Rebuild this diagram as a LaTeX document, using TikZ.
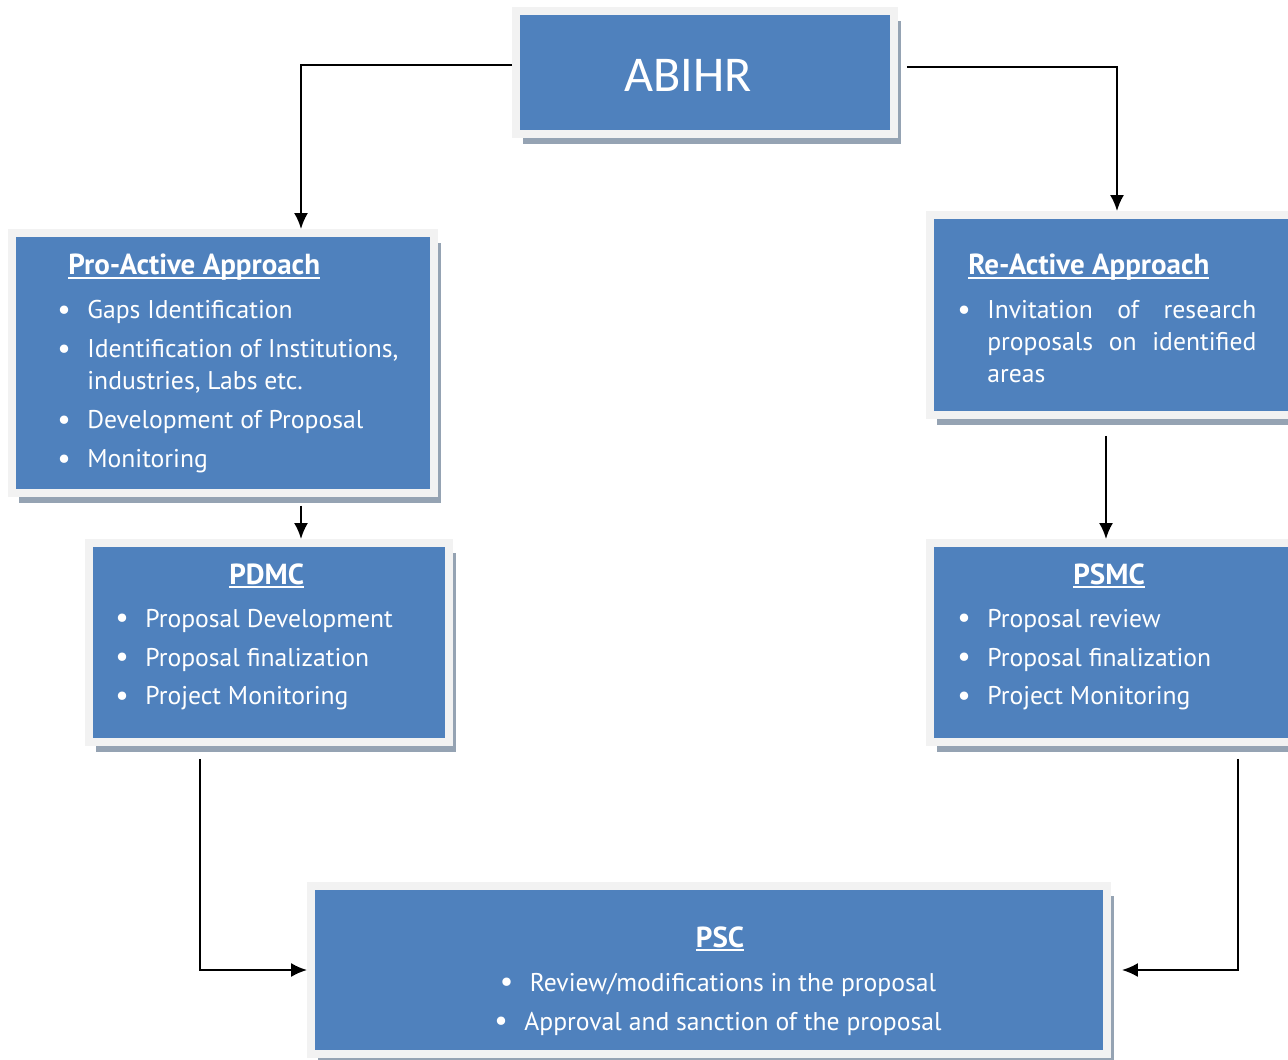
\documentclass[tikz,border=0pt]{standalone}
\usepackage{fontspec}
\setmainfont{PT Sans}
\newfontfamily\titlefont{Carlito}
\usetikzlibrary{calc,shadows,arrows.meta}
\definecolor{boxblue}{HTML}{4F81BD}
\definecolor{framegray}{HTML}{F2F2F2}
\definecolor{shadowgray}{HTML}{95A3B3}
\newlength\pxl
\setlength\pxl{0.02cm}
\newcommand\bul{\makebox[26\pxl][l]{\hspace*{-4\pxl}\raisebox{-0.5\pxl}{\fontsize{17}{17}\selectfont\textbullet}}}
\newcommand\hdline[1]{\setbox0\hbox{#1}\copy0\llap{\rule[-4\pxl]{\wd0}{2\pxl}}}
\newcommand\hd[1]{{\bfseries\fontsize{16.5}{18.2}\selectfont\hdline{#1}}}
\tikzset{
  panel/.style={fill=boxblue, draw=framegray, line width=0.16cm, inner sep=0pt,
    drop shadow={shadow xshift=0.14cm, shadow yshift=-0.2cm, fill=shadowgray, opacity=1}},
  txt/.style={text=white, inner sep=0pt, font=\fontsize{14.6}{18.2}\selectfont},
  arr/.style={-{Latex[length=0.32cm,width=0.28cm]}, line width=0.04cm}
}
\begin{document}
\begin{tikzpicture}[x=0.02cm,y=-0.02cm]
  \useasboundingbox (0,0) rectangle (1288,1059);
  \node [panel, minimum width=7.56cm, minimum height=2.46cm] (abihr) at (705,72.5) {};
  \node [panel, minimum width=8.44cm, minimum height=5.2cm] (pro) at (223,363) {};
  \node [panel, minimum width=7.24cm, minimum height=4cm] (re) at (1111,315) {};
  \node [panel, minimum width=7.2cm, minimum height=3.98cm] (pdmc) at (269,642.5) {};
  \node [panel, minimum width=7.24cm, minimum height=3.98cm] (psmc) at (1111,642.5) {};
  \node [panel, minimum width=15.92cm, minimum height=3.36cm] (psc) at (709,970) {};
  \node [txt, font=\titlefont\fontsize{28.5}{30}\selectfont] (abihrtxt) at (688,75) {ABIHR};
  \node [txt, align=left, anchor=north west] (protxt) at (61,254) {%
    \hspace*{7\pxl}\hd{Pro-Active Approach}\\[12\pxl]
    \bul Gaps Identification\\[7\pxl]
    \bul Identification of Institutions,\\
    \hspace*{26\pxl}industries, Labs etc.\\[7\pxl]
    \bul Development of Proposal\\[7\pxl]
    \bul Monitoring};
  \node [txt, align=left, anchor=north west] (retxt) at (961,254) {%
    \hspace*{7\pxl}\hd{Re-Active Approach}\\[12\pxl]
    \bul\makebox[269\pxl][s]{Invitation of research}\\
    \hspace*{26\pxl}\makebox[269\pxl][s]{proposals on identified}\\
    \hspace*{26\pxl}areas};
  \node [txt, align=left, anchor=north west] (pdmctxt) at (119,563) {%
    \hspace*{110\pxl}\hd{PDMC}\\[11\pxl]
    \bul Proposal Development\\[7\pxl]
    \bul Proposal finalization\\[7\pxl]
    \bul Project Monitoring};
  \node [txt, align=left, anchor=north west] (psmctxt) at (961,563) {%
    \hspace*{112\pxl}\hd{PSMC}\\[11\pxl]
    \bul Proposal review\\[7\pxl]
    \bul Proposal finalization\\[7\pxl]
    \bul Project Monitoring};
  \node [txt, align=center, anchor=north] (psctxt) at (720,926) {%
    \hd{PSC}\\[12\pxl]
    \bul Review/modifications in the proposal\\[7\pxl]
    \bul Approval and sanction of the proposal};
  \draw [arr] ($(abihr.west)+(0,-8)$) -| ($(pro.north)+(78,0)$);
  \draw [arr] ($(abihr.east)+(9,-6)$) -| ($(re.north)+(6,0)$);
  \draw [arr] ($(pro.south)+(78,9)$) -- ($(pdmc.north)+(32,0)$);
  \draw [arr] ($(re.south)+(-5,17)$) -- ($(psmc.north)+(-5,0)$);
  \draw [arr] ($(pdmc.south)+(-69,13)$) |- (psc.west);
  \draw [arr] ($(psmc.south)+(127,13)$) |- ($(psc.east)+(11,0)$);
\end{tikzpicture}
\end{document}
